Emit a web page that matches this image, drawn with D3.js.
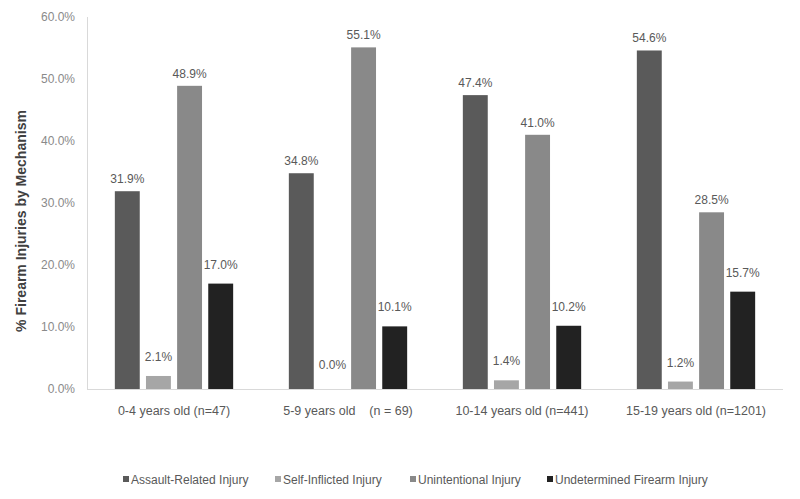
<!DOCTYPE html>
<html>
<head>
<meta charset="utf-8">
<script src="https://cdn.jsdelivr.net/npm/d3@7"></script>
<style>
  body { margin: 0; background: #fff; }
  text { font-family: "Liberation Sans", Arial, sans-serif; }
</style>
</head>
<body>
<div id="chart"></div>
<script>
// Data
const ageGroups = ["0-4 years old (n=47)", "5-9 years old    (n = 69)", "10-14 years old (n=441)", "15-19 years old (n=1201)"];
const mechanisms = ["Assault-Related Injury", "Self-Inflicted Injury", "Unintentional Injury", "Undetermined Firearm Injury"];
const assault = [31.9, 34.8, 47.4, 54.6];
const selfInflicted = [2.1, 0.0, 1.4, 1.2];
const unintentional = [48.9, 55.1, 41.0, 28.5];
const undetermined = [17.0, 10.1, 10.2, 15.7];
const yTicks = [0, 10, 20, 30, 40, 50, 60];
const colors = ["#5a5a5a", "#a6a6a6", "#898989", "#222222"];

const series = [assault, selfInflicted, unintentional, undetermined];
// label distance above bar top, per series (labels were nudged in the original)
const labelGap = [8, 15, 8, 15];

const width = 800, height = 499;
const margin = {top: 17, right: 17, bottom: 110, left: 87};

const svg = d3.select("#chart").append("svg")
    .attr("width", width)
    .attr("height", height);

const x0 = d3.scaleBand()
    .domain(ageGroups)
    .range([margin.left, width - margin.right])
    .paddingInner(0.32)
    .paddingOuter(0.16);

const x1 = d3.scaleBand()
    .domain(mechanisms)
    .range([0, x0.bandwidth()])
    .paddingInner(0.2);

const y = d3.scaleLinear()
    .domain([0, 60])
    .range([height - margin.bottom, margin.top]);

const color = d3.scaleOrdinal(mechanisms, colors);

// y axis line + tick labels
svg.append("line")
    .attr("x1", margin.left + 0.5).attr("x2", margin.left + 0.5)
    .attr("y1", y(60)).attr("y2", y(0))
    .attr("stroke", "#d9d9d9");

svg.append("g")
    .selectAll("text")
    .data(yTicks)
    .join("text")
    .attr("x", 75)
    .attr("y", d => y(d))
    .attr("dy", "0.35em")
    .attr("text-anchor", "end")
    .style("font-size", "12px")
    .style("fill", "#8a8a8a")
    .text(d => d.toFixed(1) + "%");

// y title
svg.append("text")
    .attr("transform", `translate(26, 221) rotate(-90)`)
    .attr("text-anchor", "middle")
    .style("font-size", "14px")
    .style("font-weight", "bold")
    .style("fill", "#404040")
    .text("% Firearm Injuries by Mechanism");

// bars
const rows = ageGroups.map((g, i) => ({group: g, values: mechanisms.map((m, j) => ({key: m, idx: j, value: series[j][i]}))}));

const group = svg.append("g")
    .selectAll("g")
    .data(rows)
    .join("g")
    .attr("transform", d => `translate(${x0(d.group)},0)`);

group.selectAll("rect")
    .data(d => d.values)
    .join("rect")
    .attr("x", d => x1(d.key))
    .attr("y", d => y(d.value))
    .attr("width", x1.bandwidth())
    .attr("height", d => y(0) - y(d.value))
    .attr("fill", d => color(d.key));

group.selectAll("text")
    .data(d => d.values)
    .join("text")
    .attr("x", d => x1(d.key) + x1.bandwidth() / 2)
    .attr("y", d => Math.min(y(d.value) - labelGap[d.idx], y(0) - 20))
    .attr("text-anchor", "middle")
    .style("font-size", "12px")
    .style("fill", "#595959")
    .text(d => d.value.toFixed(1) + "%");

// x axis line
svg.append("line")
    .attr("x1", margin.left).attr("x2", width - margin.right)
    .attr("y1", y(0) + 0.5).attr("y2", y(0) + 0.5)
    .attr("stroke", "#d9d9d9");

// category labels
svg.append("g")
    .selectAll("text")
    .data(ageGroups)
    .join("text")
    .attr("x", d => x0(d) + x0.bandwidth() / 2)
    .attr("y", 415)
    .attr("text-anchor", "middle")
    .attr("xml:space", "preserve")
    .style("white-space", "pre")
    .style("font-size", "12.5px")
    .style("fill", "#595959")
    .text(d => d);

// legend
const legendX = [123, 275, 410, 547];
const legend = svg.append("g")
    .selectAll("g")
    .data(mechanisms)
    .join("g")
    .attr("transform", (d, i) => `translate(${legendX[i]}, 480)`);

legend.append("rect")
    .attr("x", 0).attr("y", -4)
    .attr("width", 6).attr("height", 6)
    .attr("fill", d => color(d));

legend.append("text")
    .attr("x", 8)
    .attr("y", 0)
    .attr("dy", "0.35em")
    .style("font-size", "12px")
    .style("fill", "#595959")
    .text(d => d);
</script>
</body>
</html>
